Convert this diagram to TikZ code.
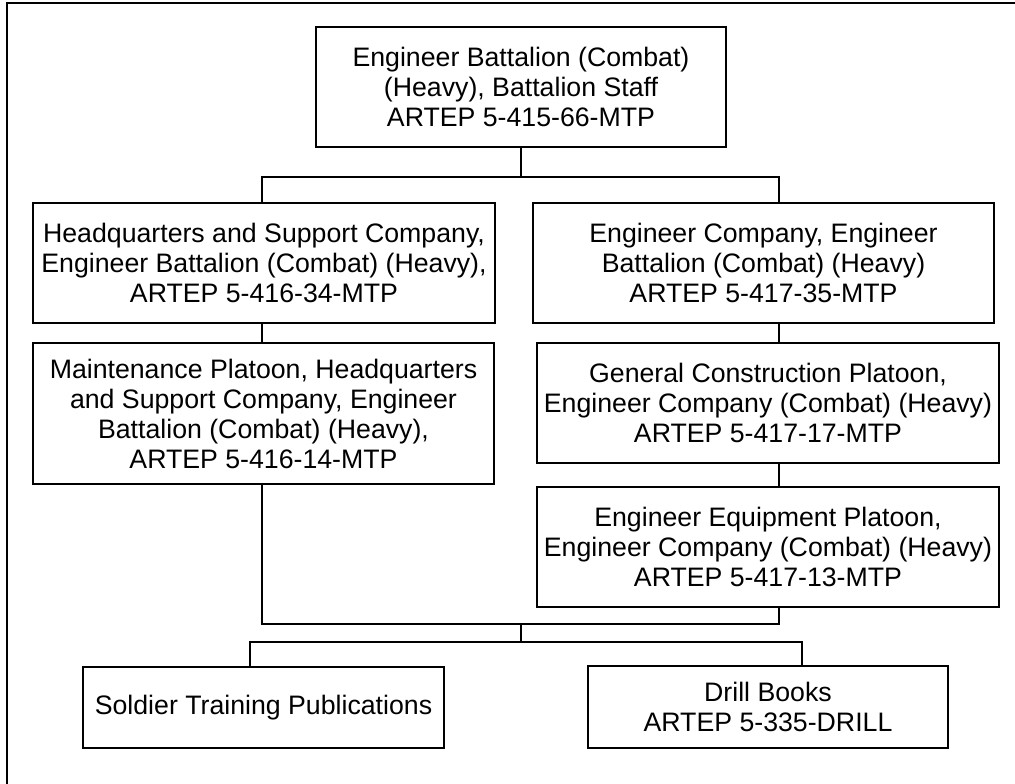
\documentclass[tikz,border=0pt]{standalone}
\usepackage{fontspec}
\setmainfont{Liberation Sans}
\usepackage{tikz}
\newcommand{\boxfont}{\fontsize{26.7}{30}\selectfont}

\begin{document}
\begin{tikzpicture}[x=1pt, y=-1pt,
  unit/.style={draw, line width=1.3pt, align=center, inner sep=0pt, font=\boxfont},
  link/.style={line width=1.3pt}]
\useasboundingbox (0,0) rectangle (1015,784);
\draw[line width=2pt] (7,784) -- (7,3) -- (1015,3);

\node[unit, minimum width=410pt, minimum height=120pt] (bn) at (521,87) {Engineer Battalion (Combat)\\(Heavy), Battalion Staff\\ARTEP 5-415-66-MTP};
\node[unit, minimum width=462pt, minimum height=120pt] (hq) at (264,263) {Headquarters and Support Company,\\Engineer Battalion (Combat) (Heavy),\\ARTEP 5-416-34-MTP};
\node[unit, minimum width=461pt, minimum height=120pt] (ec) at (763.5,263) {Engineer Company, Engineer\\Battalion (Combat) (Heavy)\\ARTEP 5-417-35-MTP};
\node[unit, minimum width=461pt, minimum height=141pt] (mp) at (263.5,413.5) {Maintenance Platoon, Headquarters\\and Support Company, Engineer\\Battalion (Combat) (Heavy),\\ARTEP 5-416-14-MTP};
\node[unit, minimum width=462pt, minimum height=120pt] (gc) at (768,403) {General Construction Platoon,\\Engineer Company (Combat) (Heavy)\\ARTEP 5-417-17-MTP};
\node[unit, minimum width=462pt, minimum height=120pt] (ee) at (768,547) {Engineer Equipment Platoon,\\Engineer Company (Combat) (Heavy)\\ARTEP 5-417-13-MTP};
\node[unit, minimum width=361pt, minimum height=81pt] (stp) at (263.5,707.5) {Soldier Training Publications};
\node[unit, minimum width=360pt, minimum height=82pt] (db) at (768,707) {Drill Books\\ARTEP 5-335-DRILL};

\coordinate (lx) at (262,0);
\coordinate (rx) at (779,0);
\coordinate (sx) at (250,0);
\coordinate (dx) at (802,0);
\coordinate (b1) at (521,177);
\coordinate (b2) at (521,624);
\coordinate (b3) at (521,642);

\draw[link] (bn.south) -- (b1);
\draw[link] (hq.north -| lx) |- (b1) -| (ec.north -| rx);
\draw[link] (hq.south -| lx) -- (mp.north -| lx);
\draw[link] (ec.south -| rx) -- (gc.north -| rx);
\draw[link] (gc.south -| rx) -- (ee.north -| rx);
\draw[link] (mp.south -| lx) |- (b2) -| (ee.south -| rx);
\draw[link] (b2) -- (b3);
\draw[link] (stp.north -| sx) |- (b3) -| (db.north -| dx);
\end{tikzpicture}
\end{document}
